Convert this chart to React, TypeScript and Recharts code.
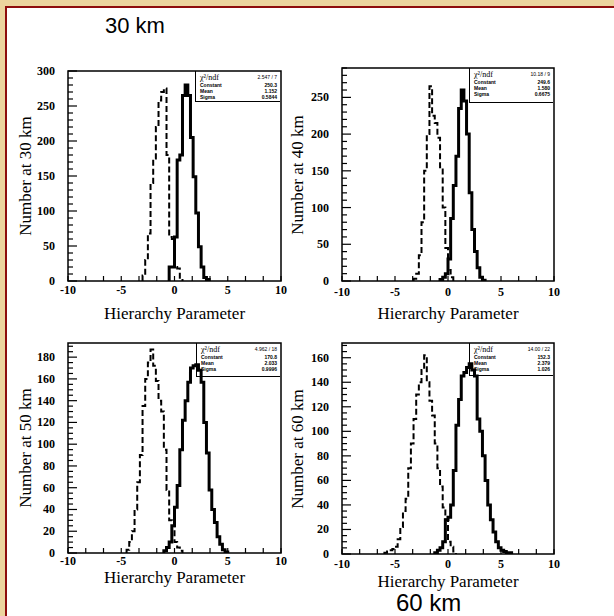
import React from 'react';
import { ComposedChart, Line, XAxis, YAxis, ReferenceArea } from 'recharts';

// ---- data (bin width 0.25, counts) ----
const BIN = 0.25;
const xTickLabels = [-10, -5, 0, 5, 10];

const dashed30Start = -3.0;
const dashed30 = [8, 30, 68, 140, 175, 220, 258, 270, 275, 180, 63, 60, 20, 18, 3];
const solid30Start = -0.5;
const solid30 = [20, 20, 63, 173, 180, 265, 280, 265, 205, 149, 97, 49, 20, 5, 2];

const dashed40Start = -3.25;
const dashed40 = [3, 10, 35, 80, 150, 200, 265, 225, 215, 195, 155, 100, 45, 15, 5];
const solid40Start = -0.75;
const solid40 = [2, 5, 10, 30, 85, 130, 170, 235, 260, 245, 200, 120, 70, 40, 18, 5, 1];

const dashed50Start = -4.5;
const dashed50 = [3, 10, 20, 40, 65, 90, 135, 160, 175, 187, 172, 158, 140, 130, 95, 58, 30, 28, 10, 5, 2];
const solid50Start = -1.0;
const solid50 = [2, 5, 10, 25, 42, 62, 95, 122, 140, 157, 170, 172, 173, 168, 157, 120, 92, 58, 40, 28, 15, 8, 3, 1];

const dashed60Start = -6.0;
const dashed60 = [1, 2, 3, 4, 6, 12, 22, 35, 45, 70, 90, 110, 130, 140, 150, 162, 140, 125, 113, 90, 70, 55, 38, 28, 10, 6, 2];
const solid60Start = -1.25;
const solid60 = [1, 3, 5, 10, 28, 30, 40, 68, 105, 126, 145, 148, 152, 155, 150, 145, 110, 100, 80, 60, 40, 28, 18, 10, 5, 3, 2, 1, 1];

const yLabels = ['Number at 30 km', 'Number at 40 km', 'Number at 50 km', 'Number at 60 km'];
const xTitle = 'Hierarchy Parameter';
const statNames = ['Constant', 'Mean', 'Sigma'];
const stats30 = ['2.547  /  7', '250.3', '1.152', '0.5844'];
const stats40 = ['10.18  /  9', '249.6', '1.580', '0.6675'];
const stats50 = ['4.962  /  18', '170.8', '2.033', '0.9996'];
const stats60 = ['14.00  /  22', '152.3', '2.379', '1.026'];

// ---- helpers ----
function toSteps(start: number, counts: number[]) {
  const pts: { x: number; y: number }[] = [{ x: start, y: 0 }];
  counts.forEach((c, i) => pts.push({ x: start + i * BIN, y: c }));
  pts.push({ x: start + counts.length * BIN, y: 0 });
  return pts;
}

const xTicks: number[] = [];
for (let i = 0; i <= 12; i++) xTicks.push(-10 + (i * 20) / 12);

const serif = '"Liberation Serif", "DejaVu Serif", serif';

type PanelProps = {
  x0: number; y0: number; x1: number; y1: number;
  yMax: number; yMinor: number; yMajor: number;
  solid: { x: number; y: number }[];
  dashed: { x: number; y: number }[];
  yLabel: string; yLabelX: number;
  xLabelY: number; xTickOff: number;
  stats: string[]; boxX0: number; boxY1: number;
};

function Panel(p: PanelProps) {
  const W = p.x1 - p.x0 + 90;
  const H = p.y1 - p.y0 + 50;
  const yTicks: number[] = [];
  for (let v = 0; v <= p.yMax + 1e-6; v += p.yMinor) yTicks.push(v);

  const XTick = (props: any) => {
    const { x, y, payload } = props;
    const v = payload.value as number;
    const r = Math.round(v);
    const major = Math.abs(v - r) < 1e-6 && xTickLabels.includes(r);
    return (
      <g>
        <line x1={x} y1={y} x2={x} y2={y - 5} stroke="#000" strokeWidth={1.2} />
        {major && (
          <text x={x} y={y + p.xTickOff + 4} textAnchor="middle" fontFamily={serif} fontWeight="bold" fontSize={12} fill="#000">
            {r}
          </text>
        )}
      </g>
    );
  };
  const YTick = (props: any) => {
    const { x, y, payload } = props;
    const v = Math.round(payload.value as number);
    const major = v % p.yMajor === 0;
    return (
      <g>
        <line x1={x} y1={y} x2={x + (major ? 9 : 5)} y2={y} stroke="#000" strokeWidth={1.2} />
        {major && (
          <text x={x - 13} y={y + 4} textAnchor="end" fontFamily={serif} fontWeight="bold" fontSize={12} fill="#000">
            {v}
          </text>
        )}
      </g>
    );
  };

  return (
    <>
      <div style={{ position: 'absolute', left: p.x0 - 70, top: p.y0 - 10, width: W, height: H }}>
        <ComposedChart width={W} height={H} margin={{ top: 10, right: 20, bottom: 10, left: 0 }}>
          <XAxis
            dataKey="x" type="number" domain={[-10, 10]} ticks={xTicks} interval={0}
            tickSize={0} tickMargin={0} tickLine={false} axisLine={false} height={30}
            tick={<XTick />} allowDataOverflow
          />
          <YAxis
            type="number" domain={[0, p.yMax]} ticks={yTicks} interval={0}
            tickSize={0} tickMargin={0} tickLine={false} axisLine={false} width={70}
            tick={<YTick />} allowDataOverflow
          />
          <ReferenceArea x1={-10} x2={10} y1={0} y2={p.yMax} fill="none" fillOpacity={0} stroke="#000" strokeWidth={1.5} />
          <Line data={p.dashed} dataKey="y" type="stepAfter" stroke="#000" strokeWidth={2} strokeDasharray="6 3" dot={false} isAnimationActive={false} />
          <Line data={p.solid} dataKey="y" type="stepAfter" stroke="#000" strokeWidth={3} dot={false} isAnimationActive={false} />
        </ComposedChart>
      </div>
      <div
        style={{
          position: 'absolute', left: p.boxX0, top: p.y0, width: p.x1 - p.boxX0 - 1, height: p.boxY1 - p.y0,
          borderLeft: '1px solid #000', borderBottom: '1px solid #000', fontFamily: '"Liberation Sans", sans-serif',
          fontSize: 5, lineHeight: '6px', color: '#000', padding: '2px 3px 0 4px', boxSizing: 'border-box',
        }}
      >
        <div style={{ display: 'flex', justifyContent: 'space-between', fontSize: 8, lineHeight: '9px' }}>
          <span style={{ fontFamily: serif }}>χ²/ndf</span>
          <span style={{ fontSize: 5 }}>{p.stats[0]}</span>
        </div>
        {statNames.map((n, i) => (
          <div key={n} style={{ display: 'flex', justifyContent: 'space-between', fontWeight: 'bold' }}>
            <span>{n}</span>
            <span>{p.stats[i + 1]}</span>
          </div>
        ))}
      </div>
      <div
        style={{
          position: 'absolute', left: (p.x0 + p.x1) / 2, top: p.xLabelY, transform: 'translate(-50%, -50%)',
          fontFamily: serif, fontSize: 17, lineHeight: 1, whiteSpace: 'nowrap', color: '#000',
        }}
      >
        {xTitle}
      </div>
      <div
        style={{
          position: 'absolute', left: p.yLabelX, top: (p.y0 + p.y1) / 2, transform: 'translate(-50%, -50%) rotate(-90deg)',
          fontFamily: serif, fontSize: 17, lineHeight: 1, whiteSpace: 'nowrap', color: '#000',
        }}
      >
        {p.yLabel}
      </div>
    </>
  );
}

export default function App() {
  return (
    <div style={{ position: 'absolute', left: 0, top: 0, width: 614, height: 616, overflow: 'hidden', background: '#ecd49e' }}>
      <div
        style={{
          position: 'absolute', left: 5, top: 6, width: 620, height: 620, background: '#fff',
          border: '2px solid #8e0c0c', boxSizing: 'border-box',
        }}
      />
      <div style={{ position: 'absolute', left: 105, top: 14.5, fontFamily: '"Liberation Sans", Arial, sans-serif', fontSize: 22, lineHeight: 1, color: '#000', whiteSpace: 'nowrap' }}>
        30 km
      </div>
      <Panel x0={68} y0={71} x1={281} y1={281} yMax={300} yMinor={10} yMajor={50}
        solid={toSteps(solid30Start, solid30)} dashed={toSteps(dashed30Start, dashed30)}
        yLabel={yLabels[0]} yLabelX={25} xLabelY={313} xTickOff={9} stats={stats30} boxX0={195} boxY1={102} />
      <Panel x0={342} y0={68} x1={554} y1={281} yMax={290} yMinor={10} yMajor={50}
        solid={toSteps(solid40Start, solid40)} dashed={toSteps(dashed40Start, dashed40)}
        yLabel={yLabels[1]} yLabelX={297} xLabelY={313} xTickOff={11} stats={stats40} boxX0={469} boxY1={103} />
      <Panel x0={68} y0={343} x1={281} y1={553} yMax={193} yMinor={5} yMajor={20}
        solid={toSteps(solid50Start, solid50)} dashed={toSteps(dashed50Start, dashed50)}
        yLabel={yLabels[2]} yLabelX={25} xLabelY={577} xTickOff={8} stats={stats50} boxX0={196} boxY1={377} />
      <Panel x0={342} y0={343} x1={554} y1={554} yMax={172} yMinor={5} yMajor={20}
        solid={toSteps(solid60Start, solid60)} dashed={toSteps(dashed60Start, dashed60)}
        yLabel={yLabels[3]} yLabelX={297} xLabelY={581} xTickOff={10} stats={stats60} boxX0={469} boxY1={376} />
      <div style={{ position: 'absolute', left: 396, top: 591, fontFamily: '"Liberation Sans", Arial, sans-serif', fontSize: 24, lineHeight: 1, color: '#000', whiteSpace: 'nowrap' }}>
        60 km
      </div>
    </div>
  );
}
